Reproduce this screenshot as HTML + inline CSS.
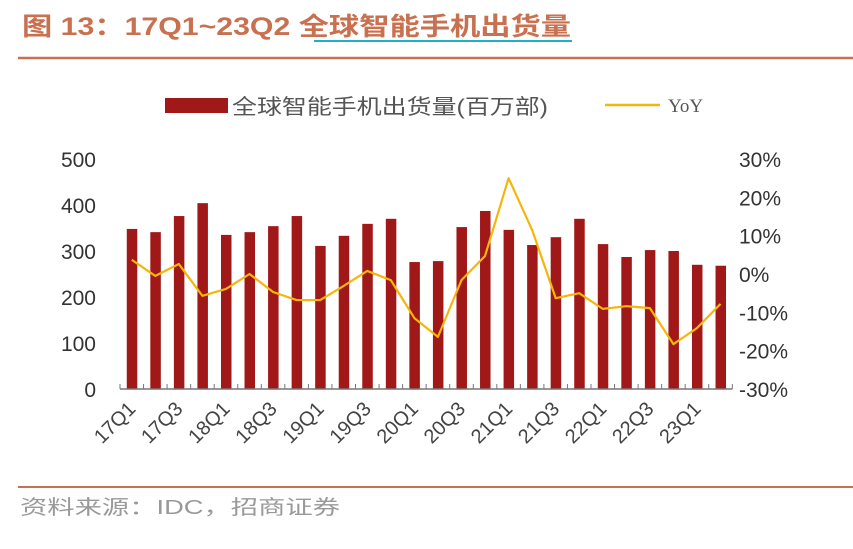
<!DOCTYPE html>
<html><head><meta charset="utf-8"><style>
body{margin:0;background:#fff;width:853px;height:544px;overflow:hidden;font-family:"Liberation Sans","Noto Sans CJK SC",sans-serif}
</style></head><body>
<svg width="853" height="544" xmlns="http://www.w3.org/2000/svg">
<text x="22" y="35" font-size="25" font-weight="bold" fill="#c8704f" textLength="549" lengthAdjust="spacingAndGlyphs">图 13：17Q1~23Q2 全球智能手机出货量</text>
<line x1="314" y1="41" x2="572" y2="41" stroke="#1fb0c8" stroke-width="2"/>
<line x1="18" y1="58" x2="853" y2="58" stroke="#c8704f" stroke-width="2.5"/>
<rect x="165" y="98" width="63" height="15" fill="#a01818"/>
<text x="232" y="114" font-size="21" fill="#555" textLength="316" lengthAdjust="spacingAndGlyphs">全球智能手机出货量(百万部)</text>
<line x1="605" y1="105" x2="660" y2="105" stroke="#f5b50a" stroke-width="2.5"/>
<text x="668" y="112" font-size="19" fill="#555" font-family="Liberation Serif,serif">YoY</text>
<g id="plot"></g>
<line x1="18" y1="487" x2="853" y2="487" stroke="#c8704f" stroke-width="2"/>
<text x="20" y="514" font-size="20" fill="#999" textLength="320" lengthAdjust="spacingAndGlyphs">资料来源：IDC，招商证券</text>
</svg>
<script>
const categories=["17Q1","17Q2","17Q3","17Q4","18Q1","18Q2","18Q3","18Q4","19Q1","19Q2","19Q3","19Q4","20Q1","20Q2","20Q3","20Q4","21Q1","21Q2","21Q3","21Q4","22Q1","22Q2","22Q3","22Q4","23Q1","23Q2"];
const shipments=[348,341,376,404,335,341,354,376,311,333,359,370,276,278,352,387,346,313,330,370,315,287,302,300,270,268];
const yoy=[3.7,-0.5,2.6,-5.7,-3.9,0,-4.7,-6.8,-6.8,-3.1,0.8,-1.6,-11.5,-16.4,-1.6,4.7,25,11.5,-6.3,-5,-9.1,-8.4,-8.9,-18.3,-14.1,-7.8];
const leftTicks=[0,100,200,300,400,500];
const rightTicks=[-30,-20,-10,0,10,20,30];
const NS="http://www.w3.org/2000/svg";
const g=document.getElementById('plot');
const x0=120,step=23.55,base=389,plotTop=159;
const xc=i=>x0+step*(i+0.5);
const yL=v=>base-(v/500)*(base-plotTop);
const yR=v=>base-((v+30)/60)*(base-plotTop);
function mk(t,a){const e=document.createElementNS(NS,t);for(const k in a)e.setAttribute(k,a[k]);g.appendChild(e);return e;}
leftTicks.forEach(v=>{const t=mk('text',{x:96,y:yL(v)+8,'font-size':21,fill:'#333','text-anchor':'end'});t.textContent=v;

});
rightTicks.forEach(v=>{const t=mk('text',{x:739,y:yR(v)+8,'font-size':21,fill:'#333'});t.textContent=v+'%';

});
shipments.forEach((v,i)=>{const r=mk('rect',{x:xc(i)-5,y:yL(v),width:10.5,height:base-yL(v),fill:'#a01818'});

});
const ax=mk('line',{x1:x0,y1:base,x2:x0+step*categories.length,y2:base,stroke:'#777','stroke-width':1.5});


for(let i=0;i<=categories.length;i++){const tk=mk('line',{x1:x0+step*i,y1:base,x2:x0+step*i,y2:base-5,stroke:'#777'});

}
categories.forEach((c,i)=>{if(i%2)return;const X=xc(i)+5,Y=base+21;
const t=mk('text',{x:X,y:Y,'font-size':20,fill:'#444','text-anchor':'end',transform:`rotate(-45 ${X} ${Y})`});t.textContent=c;

});
const pl=mk('polyline',{points:yoy.map((v,i)=>xc(i)+','+yR(v)).join(' '),fill:'none',stroke:'#f5b50a','stroke-width':2.2,'stroke-linejoin':'round'});


</script>
</body></html>
